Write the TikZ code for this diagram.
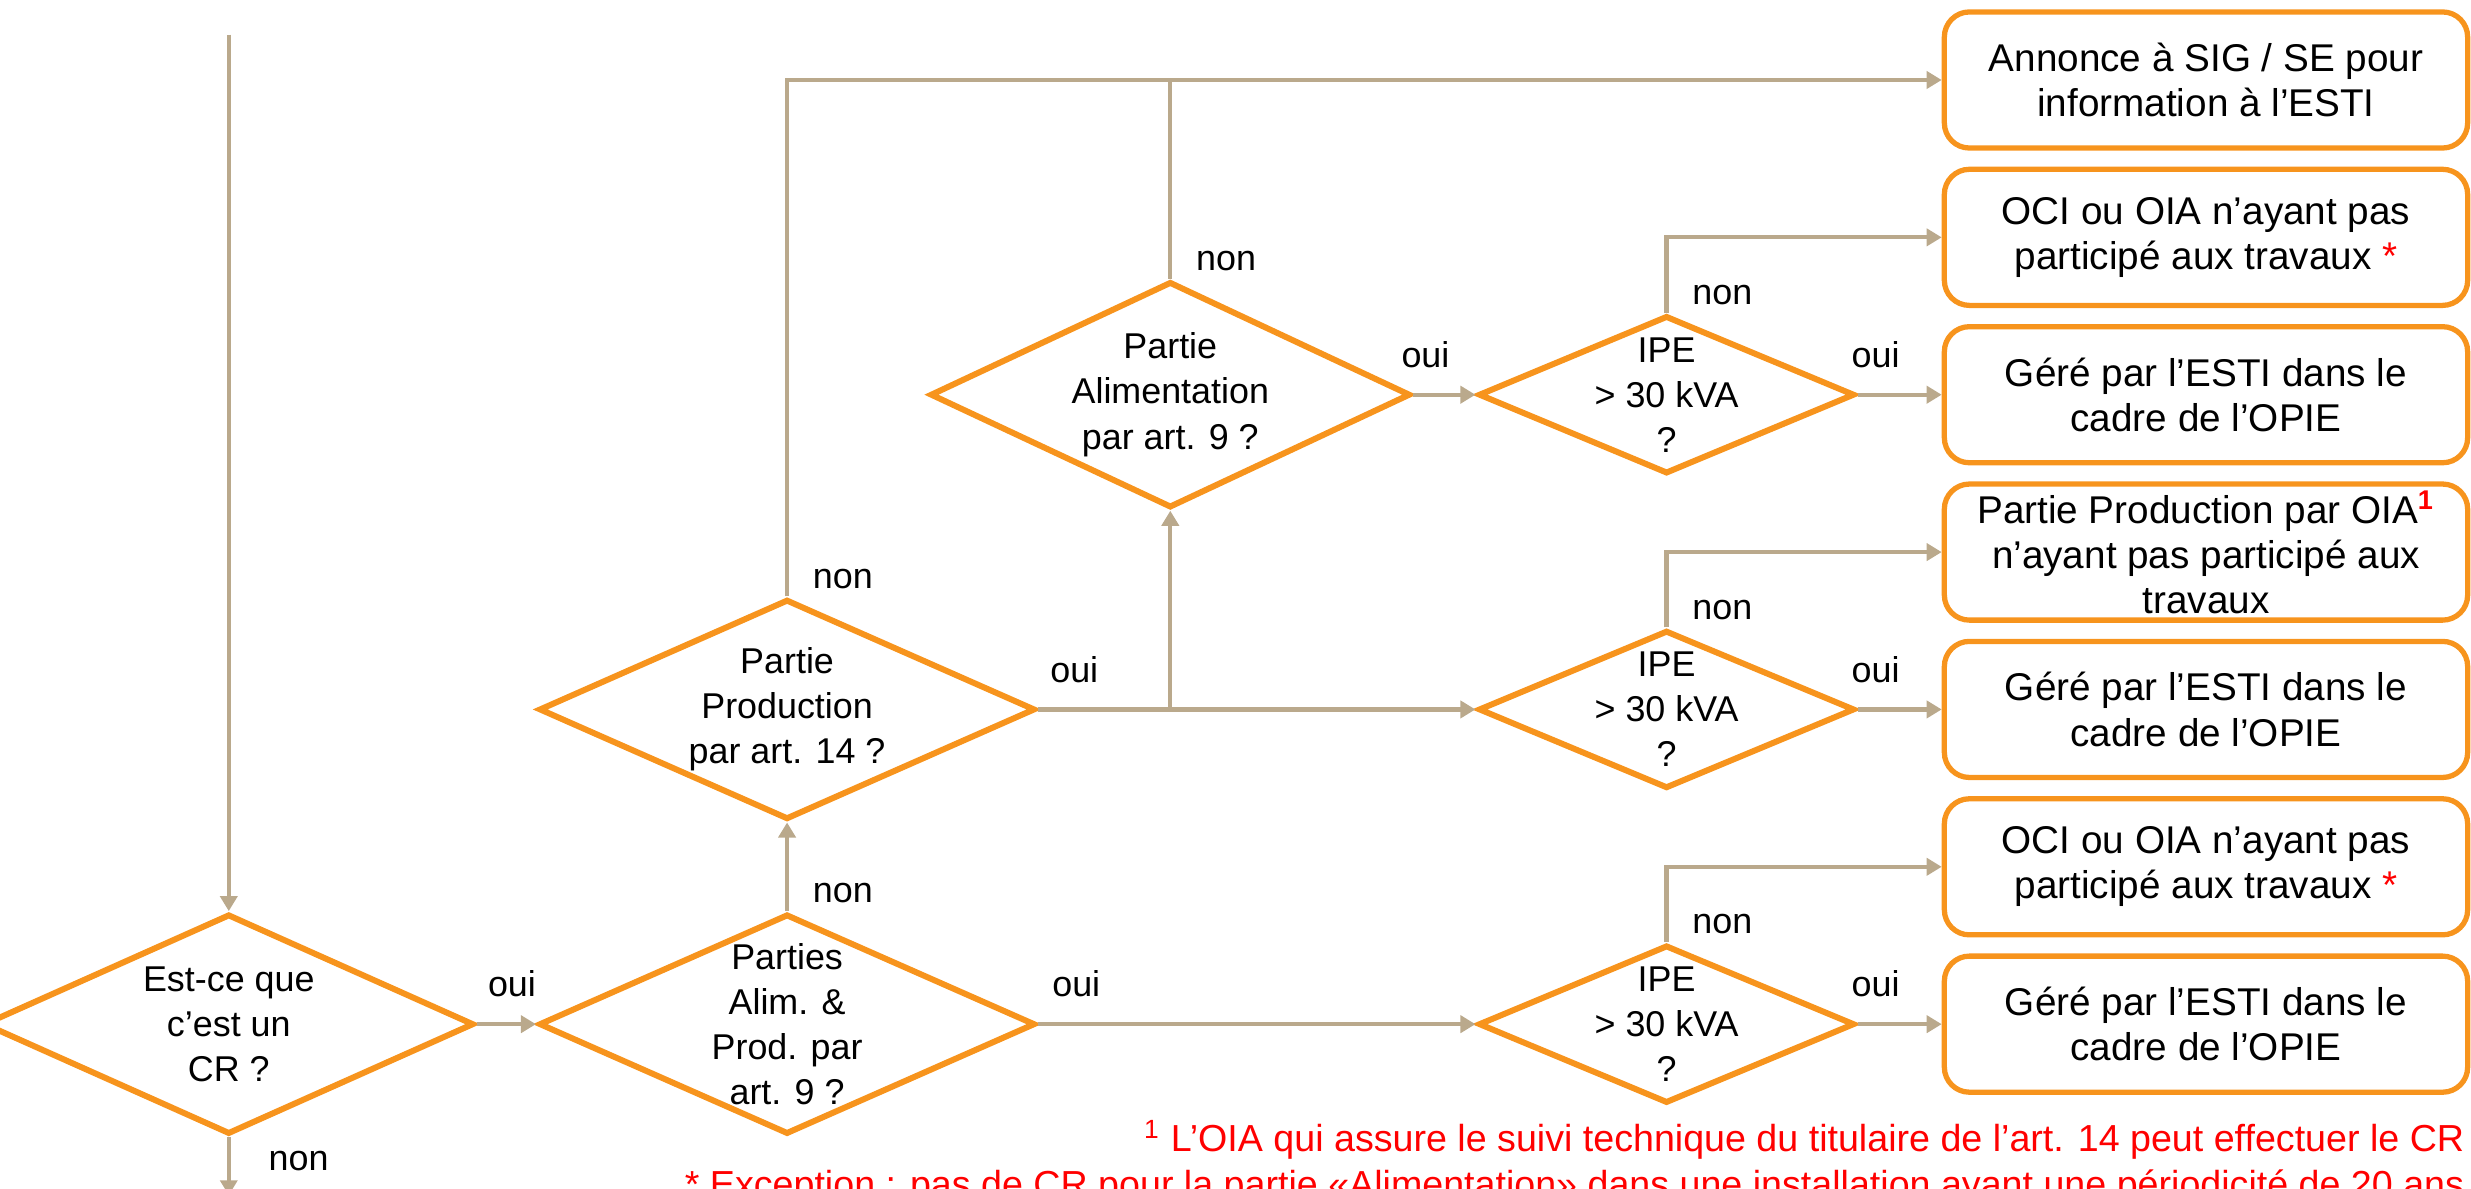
\documentclass[tikz,border=0pt]{standalone}
\usepackage{fontspec}
\setmainfont{Liberation Sans}
\usetikzlibrary{shapes.geometric, positioning, arrows.meta}
\definecolor{flowOrange}{RGB}{247,148,29}
\definecolor{flowTan}{RGB}{186,169,140}
\definecolor{noteRed}{RGB}{255,0,0}
\tikzset{
	>={Triangle[length=0.15cm, width=0.17cm]}, % filled heads on all connectors
	every node/.style={font=\fontsize{10.2}{12.8}\selectfont, align=center},
	flow/.style={draw=flowTan, line width=1.2pt}, % the grey-brown connectors
	decision/.style={diamond, draw=flowOrange, line width=1.7pt, inner sep=0pt},
	outcome/.style={rectangle, rounded corners=0.25cm, draw=flowOrange, line width=1.5pt,
		inner sep=0pt, minimum width=5.23cm, minimum height=1.36cm,
		font=\fontsize{11}{12.8}\selectfont},
	nolbl/.style={at start, anchor=south west, xshift=0.12cm, yshift=-0.06cm}, % "non" sits just past the tip
	yeslbl/.style={at start, anchor=south, yshift=0.13cm},
	note/.style={text=noteRed, anchor=base east, inner sep=0pt, font=\fontsize{10.7}{12.8}\selectfont},
}

\begin{document}
\begin{tikzpicture}[x=0.01cm, y=-0.01cm]
	\useasboundingbox (0,0) rectangle (2471,1189);

	% right column: what happens in the end
	\node[outcome] (annonce) at (2206,80) {Annonce à SIG / SE pour\\information à l’ESTI};
	\node[outcome, below=0.16cm of annonce] (ocitop) {OCI ou OIA n’ayant pas\\participé aux travaux {\color{noteRed}*}};
	\node[outcome, below=0.16cm of ocitop] (estitop) {Géré par l’ESTI dans le\\cadre de l’OPIE};
	\node[outcome, below=0.16cm of estitop] (oiaprod) {Partie Production par OIA\textsuperscript{\color{noteRed}\bfseries 1}\\n’ayant pas participé aux\\travaux};
	\node[outcome, below=0.16cm of oiaprod] (estimid) {Géré par l’ESTI dans le\\cadre de l’OPIE};
	\node[outcome, below=0.16cm of estimid] (ocibot) {OCI ou OIA n’ayant pas\\participé aux travaux {\color{noteRed}*}};
	\node[outcome, below=0.16cm of ocibot] (estibot) {Géré par l’ESTI dans le\\cadre de l’OPIE};

	% the questions
	\node[decision, minimum width=3.76cm, minimum height=1.58cm, left=0.84cm of estitop] (ipetop) {};
	\node[decision, minimum width=3.76cm, minimum height=1.58cm, left=0.84cm of estimid] (ipemid) {};
	\node[decision, minimum width=3.76cm, minimum height=1.58cm, left=0.84cm of estibot] (ipebot) {};
	\node[decision, minimum width=4.8cm, minimum height=2.26cm, left=0.62cm of ipetop] (qalim) {};
	\node[decision, minimum width=4.96cm, minimum height=2.2cm, left=4.37cm of ipemid] (qprod) {};
	\node[decision, minimum width=4.96cm, minimum height=2.2cm, left=4.37cm of ipebot] (qboth) {};
	\node[decision, minimum width=4.9cm, minimum height=2.2cm, left=0.59cm of qboth] (qcr) {};

	% their texts (they overflow the diamonds a little)
	\node (qcrtext) at (qcr) {Est-ce que\\c’est un\\CR ?};
	\node (qbothtext) at (qboth) {Parties\\Alim. \&\\Prod. par\\art. 9 ?};
	\node (qprodtext) at (qprod) {Partie\\Production\\par art. 14 ?};
	\node (qalimtext) at (qalim) {Partie\\Alimentation\\par art. 9 ?};
	\foreach \n in {ipetop, ipemid, ipebot}
		\node (\n text) at (\n) {IPE\\> 30 kVA\\?};

	% connectors
	\coordinate[above=8.76cm of qcr.north] (entry);
	\coordinate[below=0.58cm of qcr.south] (exit);
	\draw[flow, ->] (entry) -- (qcr.north);
	\draw[flow, ->] (qcr.south) -- node[at start, anchor=north west, xshift=0.26cm]{non} (exit);
	\draw[flow, ->] (qcr.east) -- node[yeslbl, xshift=0.35cm]{oui} (qboth.west);
	\draw[flow, ->] (qboth.north) -- node[nolbl]{non} (qprod.south);
	\draw[flow, ->] (qboth.east) -- node[yeslbl, xshift=0.38cm]{oui} (ipebot.west);
	\draw[flow, ->] (qprod.east) -- node[yeslbl, xshift=0.36cm]{oui} (ipemid.west);
	\draw[flow, ->] (qprod.east -| qalim.south) -- (qalim.south);
	\draw[flow, ->] (qprod.north) -- node[nolbl]{non} (qprod.north |- annonce.west) -- (annonce.west);
	\draw[flow] (qalim.north) -- node[nolbl]{non} (qalim.north |- annonce.west);
	\draw[flow, ->] (qalim.east) -- node[yeslbl, xshift=0.12cm]{oui} (ipetop.west);
	\foreach \q/\no/\yes in {ipetop/ocitop/estitop, ipemid/oiaprod/estimid, ipebot/ocibot/estibot} {
		\draw[flow, ->] (\q.north) -- node[nolbl]{non} (\q.north |- \no.west) -- (\no.west);
		\draw[flow, ->] (\q.east) -- node[yeslbl, xshift=0.18cm]{oui} (\yes.west);
	}

	% footnotes
	\node[note] (fnone) at (2465,1152) {\textsuperscript{1} L’OIA qui assure le suivi technique du titulaire de l’art. 14 peut effectuer le CR};
	\node[note] (fntwo) at (2465,1198) {* Exception : pas de CR pour la partie «Alimentation» dans une installation ayant une périodicité de 20 ans};
\end{tikzpicture}
\end{document}
